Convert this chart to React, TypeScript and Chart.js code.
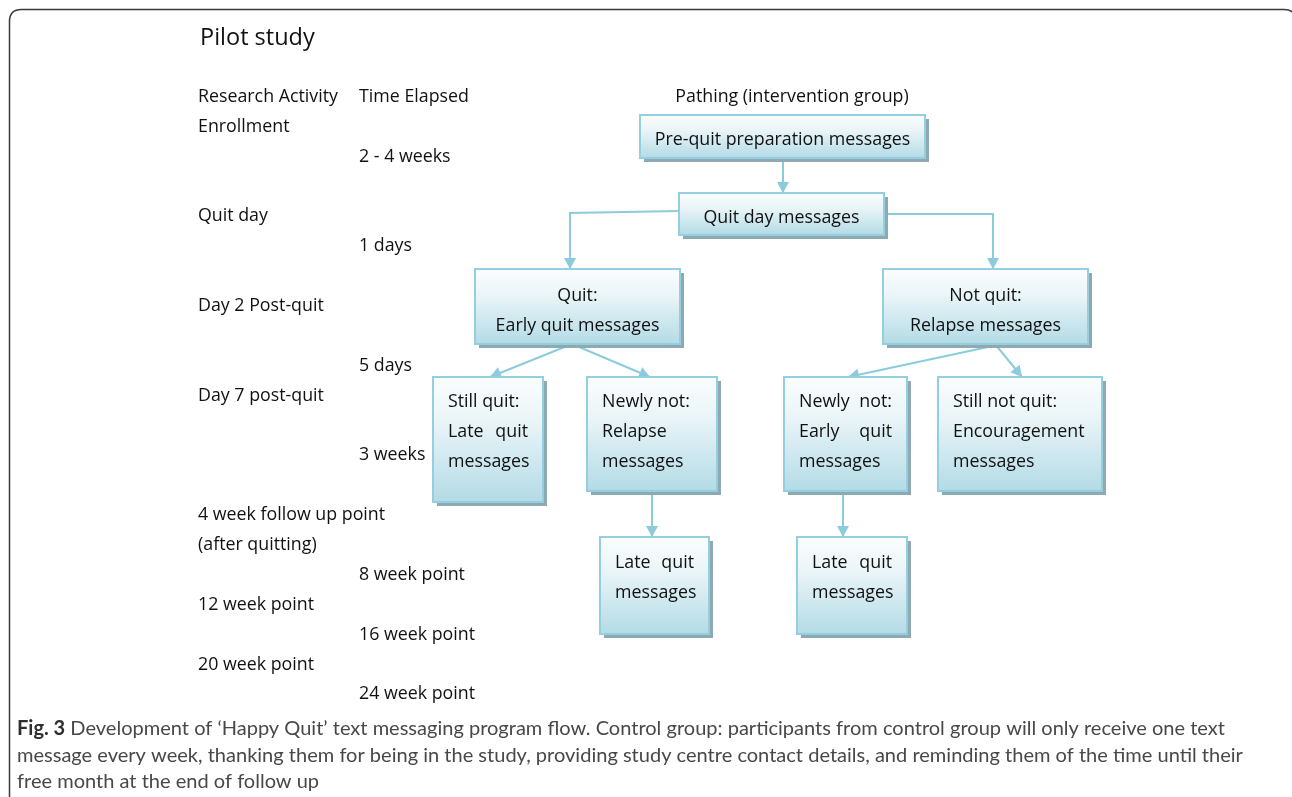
import React, { useEffect, useRef } from "react";
import { Chart, registerables } from "chart.js";
Chart.register(...registerables);

const W = 1292;
const H = 797;

// Left-hand timeline columns
const activityLabels = ["Research Activity", "Enrollment", "Quit day", "Day 2 Post-quit", "Day 7 post-quit", "4 week follow up point", "(after quitting)", "12 week point", "20 week point"];
const activityRows = [95, 125, 214, 304, 394, 513, 543, 603, 663];
const timeLabels = ["Time Elapsed", "2 - 4 weeks", "1 days", "5 days", "3 weeks", "8 week point", "16 week point", "24 week point"];
const timeRows = [95, 155, 244, 364, 453, 573, 633, 692];

// Flow boxes
const boxTexts: string[][] = [
  ["Pre-quit preparation messages"],
  ["Quit day messages"],
  ["Quit:", "Early quit messages"],
  ["Not quit:", "Relapse messages"],
  ["Still quit:", "Late quit", "messages"],
  ["Newly not:", "Relapse", "messages"],
  ["Newly not:", "Early quit", "messages"],
  ["Still not quit:", "Encouragement", "messages"],
  ["Late quit", "messages"],
  ["Late quit", "messages"],
];
const boxAlign = ["center", "center", "center", "center", "left", "left", "left", "left", "left", "left"];
const boxJustified: number[][] = [[], [], [], [], [1], [], [0, 1], [], [0], [0]];
const boxX0 = [640, 679, 475, 883, 433, 587, 784, 938, 600, 797];
const boxX1 = [925, 884, 680, 1088, 543, 717, 907, 1102, 709, 907];
const boxY0 = [115, 193, 269, 269, 377, 377, 377, 377, 537, 537];
const boxY1 = [158, 235, 344, 344, 502, 491, 491, 491, 634, 634];
const firstLineY = [138, 216, 294, 294, 400, 400, 400, 400, 561, 561];
const lineGap = 30;

// Connectors (last point gets an arrowhead)
const connectors: { x: number; y: number }[][] = [
  [{ x: 783, y: 158 }, { x: 783, y: 193 }],
  [{ x: 679, y: 211 }, { x: 570, y: 213 }, { x: 570, y: 269 }],
  [{ x: 884, y: 214 }, { x: 993, y: 214 }, { x: 993, y: 269 }],
  [{ x: 572, y: 344 }, { x: 490, y: 377 }],
  [{ x: 572, y: 344 }, { x: 650, y: 377 }],
  [{ x: 1002, y: 344 }, { x: 848, y: 377 }],
  [{ x: 995, y: 344 }, { x: 1022, y: 377 }],
  [{ x: 652, y: 491 }, { x: 652, y: 537 }],
  [{ x: 843, y: 491 }, { x: 843, y: 537 }],
];

const titleText = "Pilot study";
const pathingText = "Pathing (intervention group)";
const captionBold = "Fig. 3";
const captionLines = [
  " Development of \u2018Happy Quit\u2019 text messaging program flow. Control group: participants from control group will only receive one text",
  "message every week, thanking them for being in the study, providing study centre contact details, and reminding them of the time until their",
  "free month at the end of follow up",
];

const LINE = "#8ccbdc";
const FONT = '"Open Sans", sans-serif';
const CAP_FONT = 'Lato, "Open Sans", sans-serif';
const TY = 2;

const flowPlugin = {
  id: "flow",
  beforeDatasetsDraw(chart: any) {
    const ctx = chart.ctx as CanvasRenderingContext2D;
    const xs = chart.scales.x;
    const ys = chart.scales.y;
    const px = (v: number) => xs.getPixelForValue(v);
    const py = (v: number) => ys.getPixelForValue(v) + TY;
    ctx.save();
    // frame
    ctx.strokeStyle = "#3a3a3a";
    ctx.lineWidth = 1.5;
    ctx.beginPath();
    const l = 9.5, t = 9.5, r = 1296, b = 830, rad = 12;
    ctx.moveTo(l, b);
    ctx.lineTo(l, t + rad);
    ctx.quadraticCurveTo(l, t, l + rad, t);
    ctx.lineTo(r - rad, t);
    ctx.quadraticCurveTo(r, t, r, t + rad);
    ctx.lineTo(r, b);
    ctx.stroke();

    // fit body font
    ctx.font = `17px ${FONT}`;
    const m = ctx.measureText("Research Activity").width;
    const fs = (17 * 140) / m;
    (chart as any)._fs = fs;

    ctx.fillStyle = "#111";
    ctx.textBaseline = "middle";
    ctx.textAlign = "left";
    ctx.font = `23.5px ${FONT}`;
    ctx.fillText(titleText, px(200), py(36));

    ctx.font = `${fs}px ${FONT}`;
    activityLabels.forEach((s, i) => ctx.fillText(s, px(198), py(activityRows[i])));
    timeLabels.forEach((s, i) => ctx.fillText(s, px(359), py(timeRows[i])));
    ctx.textAlign = "center";
    ctx.fillText(pathingText, px(792), py(95));

    // caption
    ctx.textAlign = "left";
    ctx.font = `bold 18px ${CAP_FONT}`;
    const wb = ctx.measureText(captionBold).width;
    ctx.font = `18px ${CAP_FONT}`;
    const wr = ctx.measureText(captionLines[0]).width;
    const cs = (18 * 1209) / (wb + wr);
    ctx.fillStyle = "#2e2e2e";
    ctx.font = `bold ${cs}px ${CAP_FONT}`;
    ctx.fillText(captionBold, px(17), py(727));
    const wb2 = ctx.measureText(captionBold).width;
    ctx.font = `${cs}px ${CAP_FONT}`;
    ctx.fillStyle = "#484848";
    ctx.fillText(captionLines[0], px(17) + wb2, py(727));
    ctx.fillText(captionLines[1], px(17), py(754));
    ctx.fillText(captionLines[2], px(17), py(780));
    ctx.restore();
  },
  afterDatasetsDraw(chart: any) {
    const ctx = chart.ctx as CanvasRenderingContext2D;
    const xs = chart.scales.x;
    const ys = chart.scales.y;
    const px = (v: number) => xs.getPixelForValue(v);
    const py = (v: number) => ys.getPixelForValue(v);
    const fs = (chart as any)._fs || 17;
    ctx.save();
    // arrowheads
    ctx.fillStyle = LINE;
    connectors.forEach((pts) => {
      const a = pts[pts.length - 2];
      const bb = pts[pts.length - 1];
      const x1 = px(a.x), y1 = py(a.y), x2 = px(bb.x), y2 = py(bb.y);
      const ang = Math.atan2(y2 - y1, x2 - x1);
      const len = 11, hw = 6;
      ctx.beginPath();
      ctx.moveTo(x2, y2);
      ctx.lineTo(x2 - len * Math.cos(ang) + hw * Math.sin(ang), y2 - len * Math.sin(ang) - hw * Math.cos(ang));
      ctx.lineTo(x2 - len * Math.cos(ang) - hw * Math.sin(ang), y2 - len * Math.sin(ang) + hw * Math.cos(ang));
      ctx.closePath();
      ctx.fill();
    });
    // boxes
    boxTexts.forEach((lines, i) => {
      const x0 = px(boxX0[i]), x1 = px(boxX1[i]), y0 = py(boxY0[i]), y1 = py(boxY1[i]);
      const w = x1 - x0, h = y1 - y0;
      ctx.fillStyle = "#8fa9b3";
      ctx.fillRect(x0 + 4, y0 + 4, w, h);
      const g = ctx.createLinearGradient(0, y0, 0, y1);
      g.addColorStop(0, "#fbfdfe");
      g.addColorStop(0.35, "#eaf5f8");
      g.addColorStop(1, "#b3dbe6");
      ctx.fillStyle = g;
      ctx.fillRect(x0, y0, w, h);
      ctx.strokeStyle = "#93cfdf";
      ctx.lineWidth = 2;
      ctx.strokeRect(x0, y0, w, h);

      ctx.fillStyle = "#111";
      ctx.textBaseline = "middle";
      ctx.font = `${fs}px ${FONT}`;
      const pad = 15;
      lines.forEach((s, k) => {
        const yy = py(firstLineY[i] + k * lineGap) + TY;
        if (boxAlign[i] === "center") {
          ctx.textAlign = "center";
          ctx.fillText(s, (x0 + x1) / 2, yy);
        } else if (boxJustified[i].includes(k)) {
          ctx.textAlign = "left";
          const words = s.split(" ");
          const tot = words.reduce((acc, wd) => acc + ctx.measureText(wd).width, 0);
          const span = x1 - pad - (x0 + pad);
          const gap = words.length > 1 ? (span - tot) / (words.length - 1) : 0;
          let cx = x0 + pad;
          words.forEach((wd) => {
            ctx.fillText(wd, cx, yy);
            cx += ctx.measureText(wd).width + gap;
          });
        } else {
          ctx.textAlign = "left";
          ctx.fillText(s, x0 + pad, yy);
        }
      });
    });
    ctx.restore();
  },
};

export default function App() {
  const ref = useRef<HTMLCanvasElement | null>(null);
  useEffect(() => {
    if (!ref.current) return;
    const chart = new Chart(ref.current, {
      type: "scatter",
      data: {
        datasets: connectors.map((pts) => ({
          data: pts,
          showLine: true,
          borderColor: LINE,
          borderWidth: 2,
          pointRadius: 0,
          tension: 0,
          clip: false as any,
        })),
      },
      options: {
        animation: false,
        responsive: false,
        maintainAspectRatio: false,
        devicePixelRatio: 1,
        layout: { padding: 0 },
        events: [],
        plugins: { legend: { display: false }, tooltip: { enabled: false }, title: { display: false } },
        scales: {
          x: { type: "linear", min: 0, max: W, display: false },
          y: { type: "linear", min: 0, max: H, reverse: true, display: false },
        },
      },
      plugins: [flowPlugin as any],
    });
    return () => chart.destroy();
  }, []);
  return (
    <div style={{ position: "fixed", left: 0, top: 0, width: W, height: H, background: "#fff" }}>
      <canvas ref={ref} width={W} height={H} style={{ display: "block", width: W, height: H }} />
    </div>
  );
}
